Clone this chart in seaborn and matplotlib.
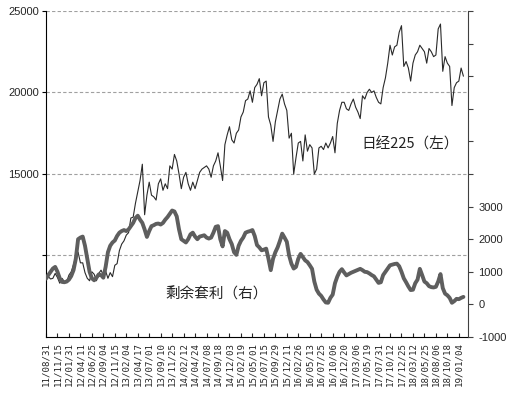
import numpy as np
import pandas as pd
import seaborn as sns
import matplotlib.pyplot as plt

# x tick labels (one every 5 samples)
tick_labels = ["11/08/31", "11/11/15", "12/01/31", "12/04/11", "12/06/25", "12/09/04",
               "12/11/15", "13/02/04", "13/04/17", "13/07/01", "13/09/10", "13/11/25",
               "14/02/12", "14/04/24", "14/07/08", "14/09/18", "14/12/03", "15/02/19",
               "15/05/01", "15/07/15", "15/09/29", "15/12/11", "16/02/26", "16/05/13",
               "16/07/25", "16/10/06", "16/12/20", "17/03/06", "17/05/19", "17/07/31",
               "17/10/12", "17/12/25", "18/03/12", "18/05/25", "18/08/06", "18/10/18",
               "19/01/04"]

# Nikkei 225 (left axis), every 10 trading days
nikkei = [8955, 8700, 8560, 8600, 8900, 8650, 8300, 8600, 8400, 8380, 8800,
          9000, 9450, 9900, 10200, 9550, 9550, 8950, 8600, 8450, 9000,
          8850, 8450, 8900, 9100, 8800, 9050, 8600, 8950, 8700, 9400,
          9500, 10300, 10700, 10900, 11250, 11400, 12300, 12350, 13200, 13900,
          14600, 15600, 12500, 13700, 14500, 13700, 13600, 13400, 14400, 14700,
          14000, 14400, 14100, 15500, 15300, 16200, 15800, 15000, 14100, 14800,
          15100, 14400, 14000, 14500, 14100, 14600, 15100, 15300, 15400, 15500,
          15300,
          14800, 15500, 15800, 16300, 15500, 14600, 16800, 17400, 17900, 17100,
          16900, 17500, 17700, 18500, 18800, 19500, 19600, 20100, 19400, 20300,
          20500, 20850, 19800, 20600, 20700, 18500, 18000, 17000, 18200, 18900,
          19600, 19900, 19300, 18900, 17200, 17500, 15000, 16000, 16900, 17000,
          15800, 17400, 16400, 16800, 16600, 15000, 15300, 16600, 16700, 16500,
          16900, 16600, 16900, 17300, 16300, 18100, 18900, 19400, 19400, 19000,
          18900, 19300, 19600, 19100, 18800, 18400, 19800, 19600, 20000, 20200,
          20000, 20100, 19700, 19400, 19300, 20300, 20900, 21800, 22900, 22300,
          22800, 22900, 23700, 24100, 21600, 21900, 21500, 20700, 21800, 22300,
          22500, 22900, 22700, 22500, 21800, 22700, 22500, 22200, 22300, 23900,
          24200, 21300, 22200, 21800, 21600,
          19200, 20300, 20600, 20700, 21500, 21000]

# remaining arbitrage (right axis)
arb = [790, 900, 1000, 1100, 1150, 1000, 800, 690, 680, 700,
       760, 870, 1050, 1400, 2000, 2050, 2080, 1800, 1400, 1000,
       800, 740, 820, 920, 900, 820, 1150, 1600, 1800, 1900,
       1960, 2100, 2200, 2250, 2280, 2250, 2300, 2400, 2500, 2650,
       2720, 2600, 2500, 2300, 2070, 2250, 2400, 2430, 2470, 2480,
       2450, 2500, 2600, 2680, 2780, 2880, 2850, 2700, 2300, 2000,
       1950, 1900, 2000, 2150, 2200, 2080, 2000, 2080, 2100, 2120,
       2050, 2020, 2050, 2200, 2380, 2400, 2000, 1780, 2250, 2200,
       2000, 1850, 1600, 1520, 1800, 1950, 2050, 2200, 2230, 2250,
       2280, 2100, 1820, 1750, 1660, 1680, 1710, 1400, 1050, 1400,
       1600, 1750, 1950, 2170, 2050, 1920, 1500, 1250, 1100, 1150,
       1400, 1550, 1450, 1350, 1300, 1200, 1090, 700, 450, 330,
       260, 150, 60, 50, 200, 300, 650, 850, 1000, 1080,
       980, 890, 930, 970, 1000, 1030, 1060, 1090, 1050, 1000,
       990, 950, 900, 860, 760, 660, 680, 900, 1000, 1100,
       1200, 1220, 1240, 1250, 1170, 1000, 800, 680, 550, 440,
       450, 650, 760, 1090, 900, 700, 650, 560, 530, 520,
       540, 700, 930, 500, 330, 280, 200, 50, 100, 170,
       160, 200, 230]

df = pd.DataFrame({"i": np.arange(len(nikkei)), "nikkei": nikkei, "arb": arb})

sns.set_style("ticks")
plt.rcParams['font.family'] = ['Liberation Sans', 'Noto Sans CJK SC']

fig = plt.figure(figsize=(5.15, 3.99), dpi=100)
ax = fig.add_axes([46 / 515, 1 - 337 / 399, 422 / 515, 326 / 399])
ax2 = ax.twinx()

sns.lineplot(data=df, x="i", y="nikkei", ax=ax, color="#2a2a2a", linewidth=0.8)
sns.lineplot(data=df, x="i", y="arb", ax=ax2, color="#5e5e5e", linewidth=2.8)

ax.set_xlim(0, 184)
ax.set_ylim(5000, 25000)
ax2.set_ylim(-1000, 9000)

# left axis
ax.set_yticks([10000, 15000, 20000, 25000])
ax.set_yticklabels(["", "15000", "20000", "25000"], fontsize=8)
ax.yaxis.grid(True, linestyle=(0, (3, 2)), color="#a0a0a0", linewidth=0.8)
ax.tick_params(axis="y", direction="out", length=3, pad=2, color="black")

# right axis
rticks = list(range(-1000, 9001, 1000))
ax2.set_yticks(rticks)
ax2.set_yticklabels([str(t) if t <= 3000 else "" for t in rticks], fontsize=8)
ax2.tick_params(axis="y", direction="out", length=3.5, pad=4, color="#404040")

# x axis
ax.set_xticks(range(0, 5 * len(tick_labels), 5))
ax.set_xticklabels(tick_labels, rotation=90, fontsize=6.6, family="DejaVu Sans Mono")
ax.tick_params(axis="x", direction="in", length=3, pad=3.5)

ax.set_xlabel("")
ax.set_ylabel("")
ax2.set_ylabel("")

for a in (ax, ax2):
    a.spines["top"].set_visible(False)
ax.spines["right"].set_visible(False)
ax2.spines["left"].set_visible(False)
ax2.spines["bottom"].set_visible(False)
ax2.spines["right"].set_color("#404040")
ax.spines["left"].set_color("black")
ax.spines["bottom"].set_color("black")

ax.text(0.748, 0.592, "日经225（左）", transform=ax.transAxes, fontsize=10.5,
        family=["Noto Sans CJK SC"], va="center", ha="left", color="#222222")
ax.text(0.282, 0.129, "剩余套利（右）", transform=ax.transAxes, fontsize=10.5,
        family=["Noto Sans CJK SC"], va="center", ha="left", color="#222222")

plt.savefig("out.png", dpi=100)
